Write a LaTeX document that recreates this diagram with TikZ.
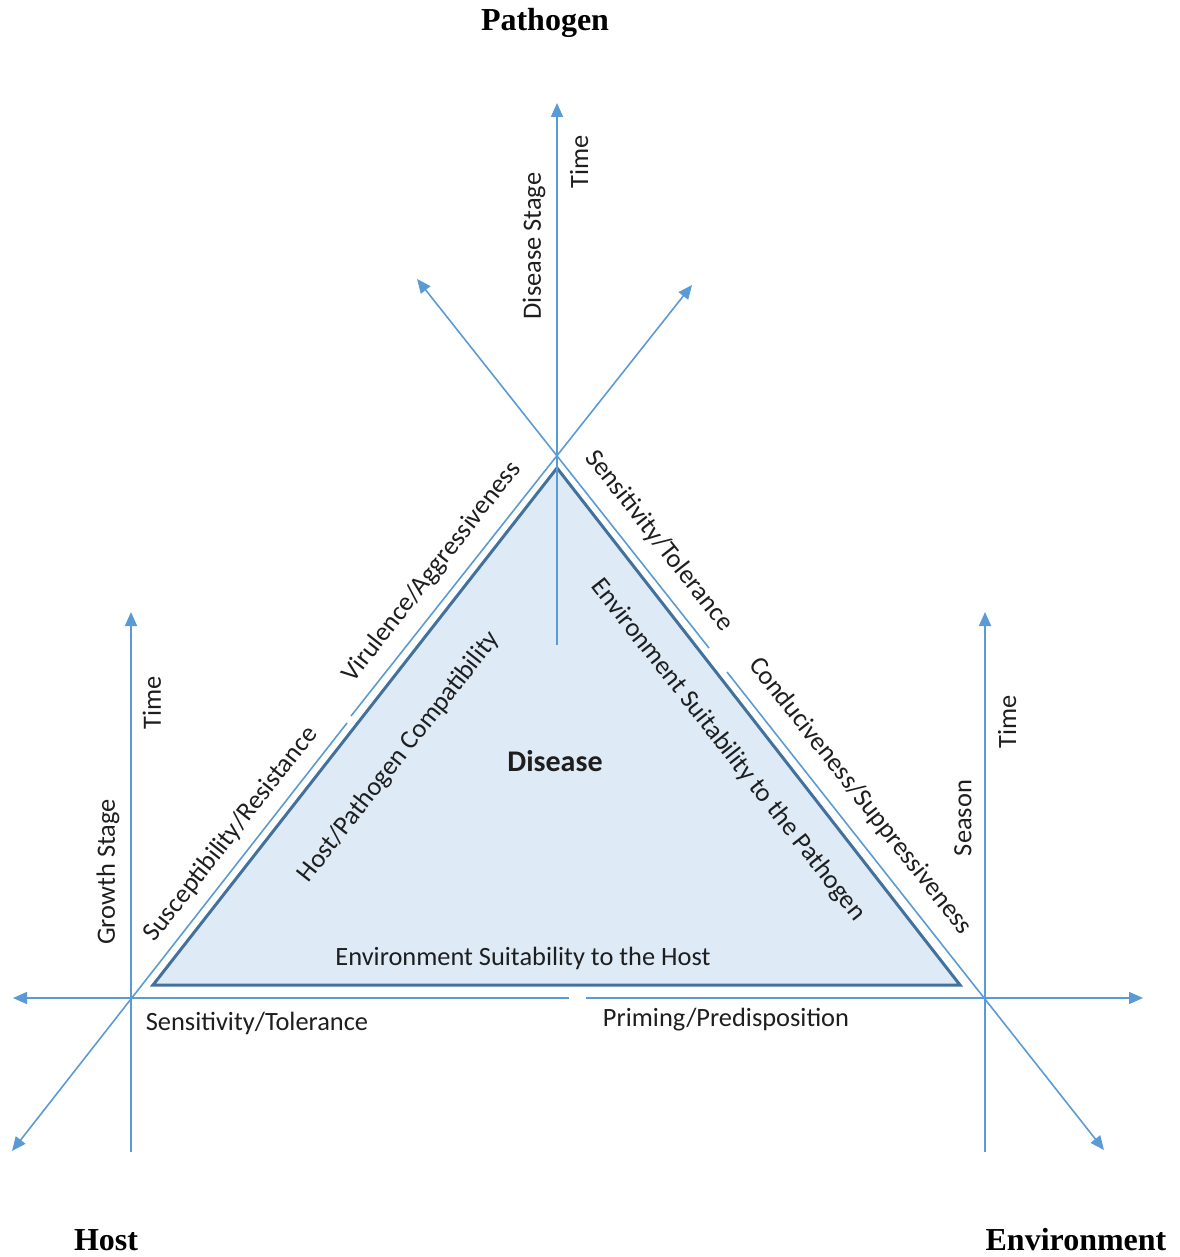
\documentclass[tikz,border=0pt]{standalone}
\usepackage{fontspec}
\setmainfont{Liberation Serif}
\newfontfamily\calib{Carlito}
\usetikzlibrary{arrows.meta}
\definecolor{axisblue}{HTML}{5B9BD5}
\definecolor{trifill}{HTML}{DEEBF7}
\definecolor{triedge}{HTML}{41719C}
\definecolor{inkgray}{HTML}{1E1E1E}
\begin{document}
\begin{tikzpicture}[x=0.5pt, y=-0.5pt,
    axis/.style={draw=axisblue, line width=0.8pt},
    tip/.style={axis, -{Triangle[length=7pt,width=6pt]}},
    lbl/.style={font=\calib\fontsize{13.2}{15}\selectfont, text=inkgray, inner sep=0pt},
    corner/.style={font=\bfseries\fontsize{16}{19}\selectfont, inner sep=0pt}]
  \useasboundingbox (0,0) rectangle (1179,1257);
  % triangle
  \coordinate (tl) at (153,985);
  \coordinate (tt) at (557,468);
  \coordinate (tr) at (960,985);
  \draw[triedge, fill=trifill, line width=1.5pt, line join=miter] (tl) -- (tt) -- (tr) -- cycle;
  % axis ends and gaps
  \coordinate (p0) at (557,645);
  \coordinate (p1) at (557,103);
  \coordinate (p2) at (417,279);
  \coordinate (p3) at (692,285);
  \coordinate (rg1) at (709,648);
  \coordinate (rg2) at (727,672);
  \coordinate (lg1) at (347,723);
  \coordinate (lg2) at (351,716);
  \coordinate (hg1) at (569,998);
  \coordinate (hg2) at (586,998);
  \coordinate (h1) at (13,998);
  \coordinate (h2) at (12,1151);
  \coordinate (h3) at (131,612);
  \coordinate (h0) at (131,1152);
  \coordinate (e1) at (1143,998);
  \coordinate (e2) at (1104,1150);
  \coordinate (e3) at (985,612);
  \coordinate (e0) at (985,1152);
  \foreach \source/\dest in {p0/p1, rg1/p2, lg2/p3, rg2/e2, lg1/h2, hg1/h1, hg2/e1, h0/h3, e0/e3}
    \draw[tip] (\source) -- (\dest);
  % corner titles
  \node[corner] (pathogen) at (545,23) {Pathogen};
  \node[corner] (host) at (106,1240) {Host};
  \node[corner] (environment) at (1076,1240) {Environment};
  % axis labels
  \node[lbl, rotate=90] (ptime) at (579,162) {Time};
  \node[lbl, rotate=90] (pstage) at (534,246) {Disease Stage};
  \node[lbl, rotate=90] (htime) at (152,703) {Time};
  \node[lbl, rotate=90] (hstage) at (108,872) {Growth Stage};
  \node[lbl, rotate=90] (etime) at (1007,722) {Time};
  \node[lbl, rotate=90] (eseason) at (963,818) {Season};
  \node[lbl, rotate=51.9] (viru) at (432,572) {Virulence/Aggressiveness};
  \node[lbl, rotate=51.9] (susc) at (231,834) {Susceptibility/Resistance};
  \node[lbl, rotate=51.9] (compat) at (399,757) {Host/Pathogen Compatibility};
  \node[lbl, rotate=-51.8] (psens) at (659,541) {Sensitivity/Tolerance};
  \node[lbl, rotate=-51.8] (cond) at (860,796) {Conduciveness/Suppressiveness};
  \node[lbl, rotate=-51.8] (envpath) at (728,750) {Environment Suitability to the Pathogen};
  \node[lbl] (envhost) at (523,958) {Environment Suitability to the Host};
  \node[lbl] (priming) at (726,1020) {Priming/Predisposition};
  \node[lbl] (hsens) at (257,1023) {Sensitivity/Tolerance};
  \node[lbl, font=\calib\bfseries\fontsize{15}{18}\selectfont] (disease) at (555,761) {Disease};
\end{tikzpicture}
\end{document}
